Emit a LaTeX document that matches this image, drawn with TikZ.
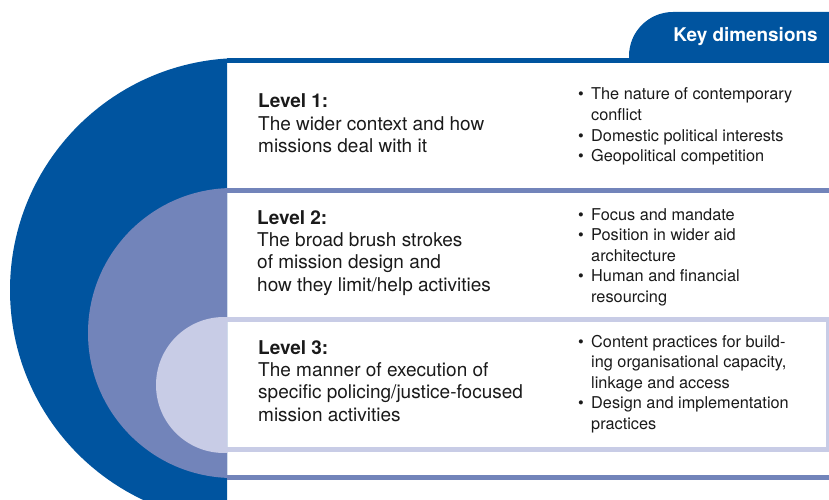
\documentclass[tikz,border=0pt]{standalone}
\usepackage{fontspec}
\setmainfont{TeX Gyre Heros}
\definecolor{dblue}{RGB}{0,84,159}
\definecolor{mblue}{RGB}{114,132,186}
\definecolor{lblue}{RGB}{200,204,230}
\definecolor{ink}{RGB}{26,26,26}
\newcommand{\bul}{\makebox[13pt][l]{•}}
\newcommand{\ind}{\hspace*{13pt}}
\begin{document}
\begin{tikzpicture}[x=1pt,y=-1pt,
  lvl/.style={anchor=base west, inner sep=0pt, text=ink, font=\fontsize{19}{22.4}\selectfont},
  dims/.style={anchor=base west, inner sep=0pt, text=ink, font=\fontsize{16.3}{20.6}\selectfont},
  bar/.style={fill=#1, draw=none}]
\useasboundingbox (0,0) rectangle (829,500);
% half circles
\begin{scope}
  \clip (0,0) rectangle (227,500);
  \fill[dblue] (242,290) circle[radius=232];
  \fill[mblue] (233,333) circle[radius=145];
  \fill[lblue] (224,385) circle[radius=68];
\end{scope}
% key dimensions tab
\fill[dblue] (629,58) [rounded corners=44pt] -- (629,12) [sharp corners] -- (829,12) -- (829,58) -- cycle;
\node[anchor=base, text=white, inner sep=0pt, font=\bfseries\fontsize{18.9}{22}\selectfont] (key) at (745.5,42) {Key dimensions};
% frame bars
\fill[dblue] (227,58) rectangle (829,63);
\fill[mblue] (227,188) rectangle (829,193);
\fill[mblue] (227,475) rectangle (829,480);
\fill[lblue] (227,317) rectangle (829,322);
\fill[lblue] (227,447) rectangle (829,452);
\fill[lblue] (826,317) rectangle (829,452);
% level texts
\node[lvl] (l1) at (258,108) {\parbox[t]{300pt}{\textbf{Level 1:}\\The wider context and how\\missions deal with it}};
\node[lvl] (l2) at (257,224) {\parbox[t]{300pt}{\textbf{Level 2:}\\The broad brush strokes\\of mission design and\\how they limit/help activities}};
\node[lvl] (l3) at (258,354) {\parbox[t]{300pt}{\textbf{Level 3:}\\The manner of execution of\\specific policing/justice-focused\\mission activities}};
% dimensions
\node[dims] (d1) at (578,100) {\parbox[t]{250pt}{\bul The nature of contemporary\\\ind conflict\\\bul Domestic political interests\\\bul Geopolitical competition}};
\node[dims] (d2) at (578,220) {\parbox[t]{250pt}{\bul Focus and mandate\\\bul Position in wider aid\\\ind architecture\\\bul Human and financial\\\ind resourcing}};
\node[dims] (d3) at (578,347) {\parbox[t]{250pt}{\bul Content practices for build-\\\ind ing organisational capacity,\\\ind linkage and access\\\bul Design and implementation\\\ind practices}};
\end{tikzpicture}
\end{document}
